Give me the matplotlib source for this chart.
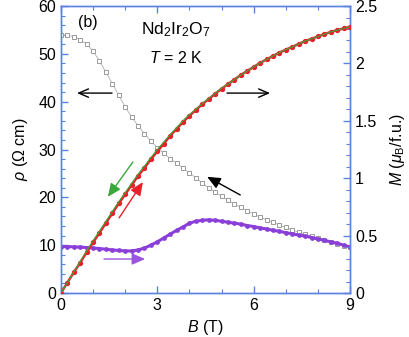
import matplotlib.pyplot as plt
plt.switch_backend('agg')
import numpy as np
from matplotlib.ticker import MultipleLocator, FormatStrFormatter

plt.rcParams['font.family'] = ['Liberation Sans', 'DejaVu Sans']
plt.rcParams['mathtext.fontset'] = 'custom'
plt.rcParams['mathtext.rm'] = 'Liberation Sans'
plt.rcParams['mathtext.it'] = 'Liberation Sans:italic'

# field (T), 0.2 T steps
B = [0.0, 0.2, 0.4, 0.6, 0.8, 1.0, 1.2, 1.4, 1.6, 1.8, 2.0, 2.2, 2.4, 2.6, 2.8,
     3.0, 3.2, 3.4, 3.6, 3.8, 4.0, 4.2, 4.4, 4.6, 4.8, 5.0, 5.2, 5.4, 5.6, 5.8,
     6.0, 6.2, 6.4, 6.6, 6.8, 7.0, 7.2, 7.4, 7.6, 7.8, 8.0, 8.2, 8.4, 8.6, 8.8, 9.0]

# resistivity, open squares (Ohm cm)
rho_open = [54.0, 53.9, 53.6, 53.0, 52.0, 50.6, 48.5, 46.2, 43.8, 41.3, 38.9, 36.8, 35.0, 33.3, 31.8,
            30.4, 29.2, 28.1, 27.1, 26.1, 25.1, 24.1, 23.0, 22.0, 21.1, 20.2, 19.4, 18.6, 17.9, 17.2,
            16.5, 15.9, 15.3, 14.8, 14.2, 13.7, 13.2, 12.7, 12.3, 11.9, 11.4, 11.0, 10.7, 10.3, 9.9, 9.6]

# resistivity, purple (Ohm cm)
rho_purple = [9.7, 9.7, 9.65, 9.6, 9.5, 9.4, 9.3, 9.15, 9.0, 8.9, 8.8, 8.8, 9.0, 9.4, 10.0,
              10.7, 11.5, 12.3, 13.1, 13.8, 14.6, 15.0, 15.2, 15.3, 15.2, 15.0, 14.8, 14.6, 14.4, 14.1,
              13.9, 13.6, 13.4, 13.1, 12.9, 12.6, 12.4, 12.1, 11.9, 11.6, 11.3, 11.0, 10.7, 10.4, 10.0, 9.6]

# magnetization up sweep (red) and down sweep (green), mu_B/f.u.
M_up = [0.0, 0.09, 0.18, 0.265, 0.355, 0.44, 0.525, 0.61, 0.695, 0.78, 0.86, 0.94, 1.02, 1.09, 1.165,
        1.235, 1.30, 1.37, 1.43, 1.49, 1.545, 1.595, 1.645, 1.69, 1.735, 1.78, 1.82, 1.86, 1.90, 1.935,
        1.97, 2.005, 2.035, 2.065, 2.095, 2.12, 2.145, 2.17, 2.195, 2.215, 2.235, 2.255, 2.275, 2.29, 2.305, 2.32]
M_down = [0.0, 0.09, 0.185, 0.275, 0.365, 0.455, 0.54, 0.625, 0.71, 0.795, 0.875, 0.955, 1.035, 1.105, 1.18,
          1.25, 1.315, 1.38, 1.44, 1.50, 1.555, 1.60, 1.65, 1.695, 1.74, 1.785, 1.82, 1.86, 1.90, 1.935,
          1.97, 2.005, 2.035, 2.065, 2.095, 2.12, 2.145, 2.17, 2.195, 2.215, 2.235, 2.255, 2.275, 2.29, 2.305, 2.32]

axcol = '#5b82e0'

fig = plt.figure(figsize=(4.09, 3.37), dpi=100)
ax = fig.add_axes([0.149, 0.1306, 0.707, 0.8514])
ax2 = ax.twinx()

ax.plot(B, rho_open, '-s', color='#b0b0b0', lw=0.6, ms=3.4, mfc='white', mec='#9a9a9a', mew=0.7, zorder=3)
ax.plot(B, rho_purple, '-o', color='#8a3fd8', lw=2.2, ms=2.4, zorder=3)
ax2.plot(B, M_up, '-o', color='#e8202a', lw=1.8, ms=2.8, zorder=3)
ax2.plot(B, M_down, '-', color='#3aa83a', lw=0.8, zorder=4)

ax.set_xlim(0, 9)
ax.set_ylim(0, 60)
ax2.set_ylim(0, 2.5)

ax.xaxis.set_major_locator(MultipleLocator(3))
ax.xaxis.set_minor_locator(MultipleLocator(1))
ax.yaxis.set_major_locator(MultipleLocator(10))
ax.yaxis.set_minor_locator(MultipleLocator(2))
ax2.yaxis.set_major_locator(MultipleLocator(0.5))
ax2.yaxis.set_minor_locator(MultipleLocator(0.1))
ax2.yaxis.set_major_formatter(FormatStrFormatter('%g'))

for a in (ax, ax2):
    for s in a.spines.values():
        s.set_color(axcol)
        s.set_linewidth(1.0)
ax.tick_params(which='both', direction='in', color=axcol, labelsize=11.5, top=True, right=False)
ax.tick_params(which='major', length=5, width=1)
ax.tick_params(which='minor', length=3, width=0.8)
ax2.tick_params(which='both', direction='in', color=axcol, labelsize=11.5)
ax2.tick_params(which='major', length=5, width=1)
ax2.tick_params(which='minor', length=3, width=0.8)

ax.set_xlabel('$B$ (T)', fontsize=11.5, labelpad=4)
ax.set_ylabel('$\\rho$ ($\\Omega$ cm)', fontsize=11.5, labelpad=6)
ax2.set_ylabel('$M$ ($\\mu_{\\rm B}$/f.u.)', fontsize=11.5, labelpad=8)

ax.text(0.85, 56.5, '(b)', fontsize=11.5, ha='center', va='center')
ax.text(3.58, 55.0, 'Nd$_2$Ir$_2$O$_7$', fontsize=12.5, ha='center', va='center')
ax.text(3.58, 49.2, '$T$ = 2 K', fontsize=11.5, ha='center', va='center')

def arrow(x0, y0, x1, y1, c, style):
    ax.annotate('', xy=(x1, y1), xytext=(x0, y0),
                arrowprops=dict(arrowstyle=style, color=c, lw=1.0,
                                shrinkA=0, shrinkB=0), zorder=5)

open_head = '->,head_length=0.7,head_width=0.3'
solid_head = '-|>,head_length=0.8,head_width=0.35'
arrow(1.59, 41.8, 0.50, 41.8, 'black', open_head)
arrow(5.17, 41.8, 6.51, 41.8, 'black', open_head)
arrow(5.58, 20.5, 4.55, 24.3, 'black', solid_head)
arrow(2.24, 27.4, 1.46, 20.1, '#3aa83a', solid_head)
arrow(1.81, 15.7, 2.55, 23.2, '#e8202a', solid_head)
arrow(1.34, 7.1, 2.62, 7.1, '#9a55e0', solid_head)

fig.savefig('out.png', dpi=100)
